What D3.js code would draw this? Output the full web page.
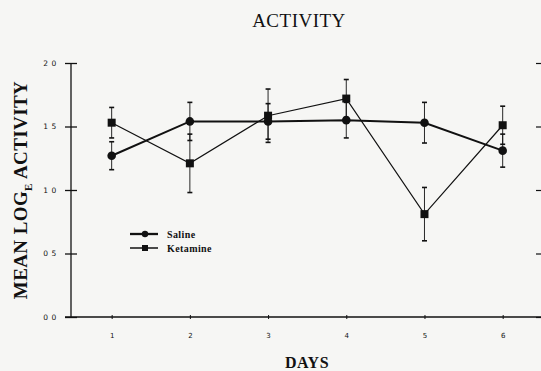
<!DOCTYPE html>
<html>
<meta charset="utf-8">
<style>
    body { margin: 0; background: #f6f6f4; }
    svg { display: block; }
</style>
<body>
<svg width="541" height="371"></svg>
<script src="https://d3js.org/d3.v7.min.js"></script>
<script>
    // values
    let days = [1, 2, 3, 4, 5, 6];
    let saline = [1.27, 1.54, 1.54, 1.55, 1.53, 1.31];
    let salineErr = [0.11, 0.15, 0.14, 0.14, 0.16, 0.13];
    let ketamine = [1.53, 1.21, 1.585, 1.72, 0.81, 1.51];
    let ketamineErr = [0.12, 0.23, 0.21, 0.15, 0.21, 0.15];
    let yTicks = [0, 0.5, 1.0, 1.5, 2.0];
    let yTickLabels = ["0 0", "0 5", "1 0", "1 5", "2 0"];

    let svg = d3.select("svg");
    let ink = "#111";

    let x = d3.scaleLinear().domain([0.48, 6.49]).range([71, 541]);
    let y = d3.scaleLinear().domain([0, 2]).range([317, 63]);

    // y axis with crossing ticks
    let ya = svg.append("g")
        .attr("transform", "translate(" + x(0.48) + ",0)")
        .call(d3.axisLeft(y).tickValues(yTicks).tickSize(6).tickPadding(8)
            .tickFormat(function (d, i) { return yTickLabels[i]; }));
    ya.select(".domain").attr("stroke", ink).attr("stroke-width", 1.3).attr("d", "M0,317V63");
    ya.selectAll(".tick line").attr("x1", 6).attr("stroke", ink).attr("stroke-width", 1.3);
    ya.selectAll(".tick text").attr("font-family", "DejaVu Sans").attr("font-size", 7.5)
        .attr("letter-spacing", 0.6).attr("fill", ink);

    // right axis (mostly cut off)
    let yr = svg.append("g")
        .attr("transform", "translate(542,0)")
        .call(d3.axisRight(y).tickValues(yTicks).tickSize(6).tickFormat(""));
    yr.selectAll(".tick line").attr("x1", -6).attr("stroke", ink).attr("stroke-width", 1.2);
    yr.select(".domain").attr("stroke", ink);

    // x axis
    let xa = svg.append("g")
        .attr("transform", "translate(0," + y(0) + ")")
        .call(d3.axisBottom(x).tickValues(days).tickSize(2).tickPadding(14)
            .tickFormat(d3.format("d")));
    xa.select(".domain").attr("stroke", ink).attr("stroke-width", 1.6).attr("d", "M65,0H541");
    xa.selectAll(".tick line").attr("y1", -2).attr("stroke", ink);
    xa.selectAll(".tick text").attr("font-family", "DejaVu Sans").attr("font-size", 7).attr("fill", ink);

    let series = [
        {name: "Saline", values: saline, err: salineErr, width: 2, shape: "circle"},
        {name: "Ketamine", values: ketamine, err: ketamineErr, width: 1.2, shape: "square"}
    ];

    let line = d3.line()
        .x(function (d, i) { return x(days[i]); })
        .y(function (d) { return y(d); });

    // error bars
    series.forEach(function (s) {
        let g = svg.append("g").attr("stroke", ink).attr("stroke-width", 0.9);
        days.forEach(function (day, i) {
            let cx = x(day), v = s.values[i], e = s.err[i];
            g.append("line").attr("x1", cx).attr("x2", cx).attr("y1", y(v + e)).attr("y2", y(v - e));
            [v + e, v - e].forEach(function (t) {
                g.append("line").attr("x1", cx - 2.5).attr("x2", cx + 2.5)
                    .attr("y1", y(t)).attr("y2", y(t)).attr("stroke-width", 1.6);
            });
        });
    });

    series.forEach(function (s) {
        svg.append("path").datum(s.values)
            .attr("fill", "none").attr("stroke", ink).attr("stroke-width", s.width)
            .attr("d", line);
    });

    function marker(sel, shape, cx, cy) {
        if (shape === "circle") {
            sel.append("circle").attr("cx", cx).attr("cy", cy).attr("r", 4.3).attr("fill", ink);
        } else {
            sel.append("rect").attr("x", cx - 4).attr("y", cy - 4).attr("width", 8).attr("height", 8).attr("fill", ink);
        }
    }

    series.forEach(function (s) {
        let g = svg.append("g");
        s.values.forEach(function (v, i) { marker(g, s.shape, x(days[i]), y(v)); });
    });

    // legend
    let legend = svg.append("g").selectAll("g").data(series).enter().append("g")
        .attr("transform", function (d, i) { return "translate(0," + (234 + i * 14) + ")"; });
    legend.append("line").attr("x1", 130).attr("x2", 158).attr("stroke", ink)
        .attr("stroke-width", function (d) { return d.width + 0.3; });
    legend.each(function (d) {
        let g = d3.select(this);
        if (d.shape === "circle") g.append("circle").attr("cx", 145).attr("r", 3.2).attr("fill", ink);
        else g.append("rect").attr("x", 142).attr("y", -3).attr("width", 6).attr("height", 6).attr("fill", ink);
    });
    legend.append("text").attr("x", 167).attr("dy", "0.35em")
        .attr("font-family", "Liberation Serif").attr("font-weight", "bold").attr("font-size", 10)
        .attr("letter-spacing", 0.4).attr("fill", ink).text(function (d) { return d.name; });

    // titles
    svg.append("text").attr("x", 299).attr("y", 27).attr("text-anchor", "middle")
        .attr("font-family", "Liberation Serif").attr("font-size", 19).attr("letter-spacing", 0.5)
        .attr("fill", ink).text("ACTIVITY");

    svg.append("text").attr("x", 307).attr("y", 368).attr("text-anchor", "middle")
        .attr("font-family", "Liberation Serif").attr("font-weight", "bold").attr("font-size", 16)
        .attr("letter-spacing", 0.5).attr("fill", ink).text("DAYS");

    let yl = svg.append("text").attr("transform", "translate(27,190) rotate(-90)")
        .attr("text-anchor", "middle")
        .attr("font-family", "Liberation Serif").attr("font-weight", "bold").attr("font-size", 19)
        .attr("letter-spacing", 0.4).attr("fill", ink);
    yl.append("tspan").text("MEAN LOG");
    yl.append("tspan").attr("font-size", 11).attr("dy", 5).text("E");
    yl.append("tspan").attr("dy", -5).text(" ACTIVITY");
</script>
</body>
</html>
